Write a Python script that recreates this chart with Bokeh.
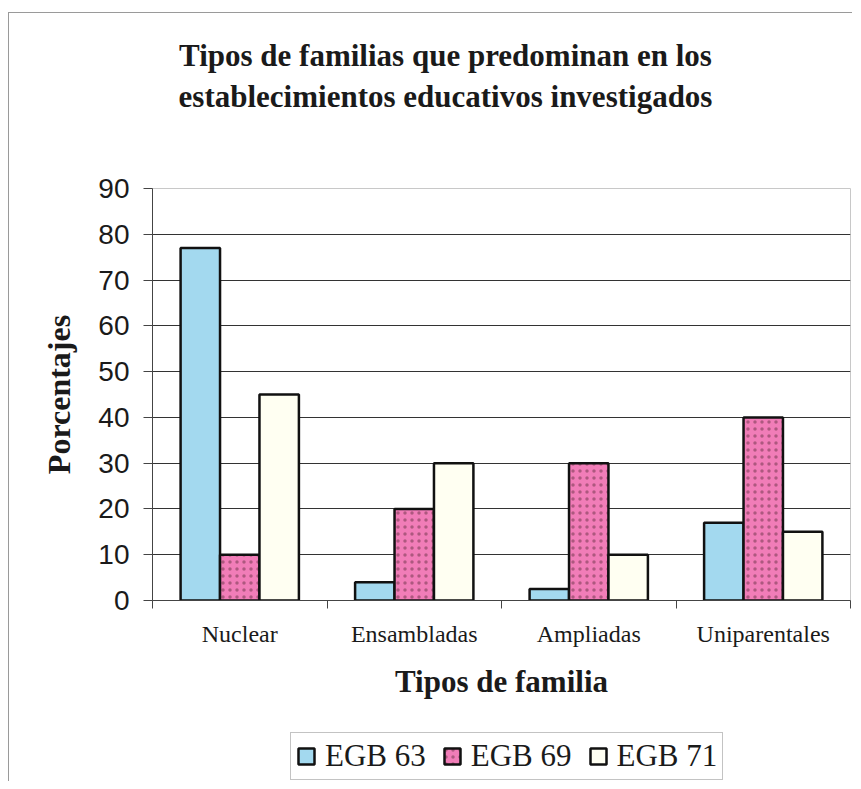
from bokeh.plotting import figure
from bokeh.layouts import column
from bokeh.models import Range1d, FixedTicker, Legend, LegendItem, ColumnDataSource, Label
from bokeh.embed import file_html
from bokeh.resources import INLINE

# ---- data ----
categories = ["Nuclear", "Ensambladas", "Ampliadas", "Uniparentales"]
series_names = ["EGB 63", "EGB 69", "EGB 71"]
egb63 = [77, 4, 2.5, 17]
egb69 = [10, 20, 30, 40]
egb71 = [45, 30, 10, 15]
y_ticks = [0, 10, 20, 30, 40, 50, 60, 70, 80, 90]
title_lines = ["Tipos de familias que predominan en los",
               "establecimientos educativos investigados"]
x_title = "Tipos de familia"
y_title = "Porcentajes"

# ---- styling ----
colors = ["#a3d9ef", "#f17db8", "#fffff2"]
serif = "Liberation Serif"
sans = "Liberation Sans"
ink = "#1a1a1a"
W = 843


def bar_style(k):
    kw = dict(fill_color=colors[k], line_color="#111111", line_width=2.5)
    if k == 1:
        kw.update(hatch_pattern="dot", hatch_color="#5a2a3a", hatch_scale=7, hatch_alpha=0.45)
    return kw


centers = [i + 0.5 for i in range(len(categories))]
bw = 0.226
offsets = [-bw, 0.0, bw]
series = [egb63, egb69, egb71]


def series_source(k):
    return ColumnDataSource(dict(x=[c + offsets[k] for c in centers], top=series[k]))


# ---- header (title); frames of the column are aligned with the chart frame ----
head = figure(width=W, height=153, output_backend="svg", toolbar_location=None,
              x_axis_location=None, y_axis_location=None, min_border=0,
              x_range=Range1d(0, 1), y_range=Range1d(0, 1), outline_line_color=None)
head.grid.grid_line_color = None
for txt, yb in zip(title_lines, [111, 70]):
    head.add_layout(Label(x=293, y=yb, x_units="screen", y_units="screen", text=txt,
                          text_align="center", text_baseline="alphabetic",
                          text_font=serif, text_font_size="31px", text_font_style="bold",
                          text_color=ink))

# ---- main chart ----
p = figure(width=W, height=542, output_backend="svg", toolbar_location=None,
           x_range=Range1d(0, len(categories)), y_range=Range1d(0, 90),
           min_border_left=143, min_border_right=2, min_border_top=22,
           min_border_bottom=108,
           background_fill_color="white", border_fill_color="white")

for k in range(len(series)):
    p.vbar(x="x", top="top", bottom=0, width=bw, source=series_source(k), **bar_style(k))

xa = p.xaxis[0]
xa.ticker = FixedTicker(ticks=centers, minor_ticks=[float(i) for i in range(len(categories) + 1)])
xa.major_label_overrides = {c: name for c, name in zip(centers, categories)}
xa.major_tick_out = 0
xa.major_tick_in = 0
xa.minor_tick_out = 8
xa.minor_tick_in = 0
xa.minor_tick_line_color = "#444444"
xa.axis_line_color = "#444444"
xa.major_label_text_font = serif
xa.major_label_text_font_size = "24px"
xa.major_label_text_color = ink
xa.major_label_standoff = 12
xa.axis_label = x_title
xa.axis_label_text_font = serif
xa.axis_label_text_font_size = "31px"
xa.axis_label_text_font_style = "bold"
xa.axis_label_text_color = ink
xa.axis_label_standoff = 14

ya = p.yaxis[0]
ya.ticker = FixedTicker(ticks=y_ticks)
ya.major_tick_out = 9
ya.major_tick_in = 0
ya.minor_tick_line_color = None
ya.major_tick_line_color = "#444444"
ya.axis_line_color = "#444444"
ya.major_label_text_font = sans
ya.major_label_text_font_size = "28px"
ya.major_label_text_color = ink
ya.major_label_standoff = 14
ya.axis_label = y_title
ya.axis_label_text_font = serif
ya.axis_label_text_font_size = "32px"
ya.axis_label_text_font_style = "bold"
ya.axis_label_text_color = ink
ya.axis_label_standoff = 18

p.xgrid.grid_line_color = None
p.ygrid.ticker = FixedTicker(ticks=y_ticks[1:-1])
p.ygrid.grid_line_color = "#333333"
p.ygrid.grid_line_width = 1
p.outline_line_color = "#c8c8c8"
p.outline_line_width = 1

# ---- legend strip (series renderers kept hidden; only their legend swatches show) ----
leg = figure(width=W, height=73, output_backend="svg", toolbar_location=None,
             x_axis_location=None, y_axis_location=None, min_border=0,
             x_range=Range1d(0, 1), y_range=Range1d(0, 1), outline_line_color=None)
leg.grid.grid_line_color = None
items = []
for k, name in enumerate(series_names):
    r = leg.vbar(x="x", top="top", bottom=0, width=bw, source=series_source(k), **bar_style(k))
    r.visible = False
    items.append(LegendItem(label=name, renderers=[r]))
legend = Legend(items=items, orientation="horizontal", location=(138, 1),
                label_text_font=serif, label_text_font_size="31px", label_text_color=ink,
                glyph_width=20, glyph_height=20, label_standoff=9, spacing=16,
                padding=5, margin=0, border_line_color="#888888", border_line_width=1,
                background_fill_color="white", inactive_fill_alpha=0.0)
leg.add_layout(legend, "center")

layout = column(head, p, leg, spacing=0, margin=(12, 0, 0, 8),
                styles={"border-left": "1px solid #9a9a9a", "border-top": "1px solid #9a9a9a"})

open("out.html", "w").write(file_html(layout, INLINE))
